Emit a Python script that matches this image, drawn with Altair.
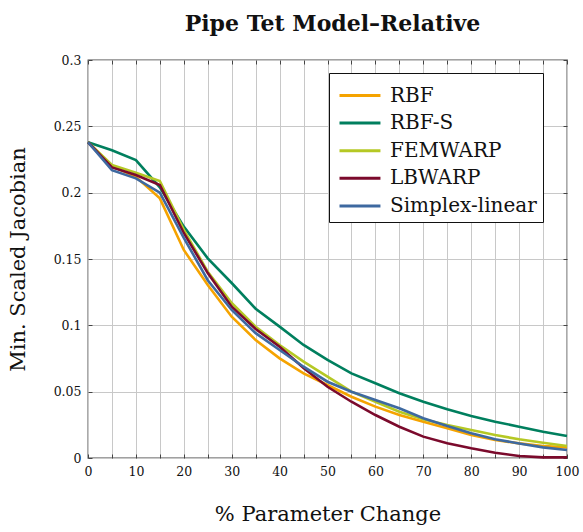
import altair as alt
import pandas as pd

x_vals = [0, 5, 10, 15, 20, 25, 30, 35, 40, 45, 50, 55, 60, 65, 70, 75, 80, 85, 90, 95, 100]

series_names = ["RBF", "RBF-S", "FEMWARP", "LBWARP", "Simplex-linear"]
series_colors = ["#F5A300", "#007F5E", "#B5C824", "#7B0A2C", "#3E69A0"]

rbf = [0.238, 0.220, 0.212, 0.1957, 0.1568, 0.1304, 0.1065, 0.0889, 0.0751, 0.0638, 0.055,
       0.0462, 0.0387, 0.0324, 0.0274, 0.0224, 0.0173, 0.0136, 0.011, 0.009, 0.008]
rbf_s = [0.238, 0.232, 0.2246, 0.204, 0.1744, 0.1505, 0.1319, 0.1125, 0.099, 0.0852, 0.0739,
         0.0638, 0.0563, 0.0488, 0.0424, 0.0367, 0.0317, 0.0274, 0.0236, 0.0198, 0.0166]
femwarp = [0.238, 0.2209, 0.215, 0.2088, 0.172, 0.1404, 0.1168, 0.099, 0.0852, 0.0726, 0.0613,
           0.050, 0.0424, 0.0349, 0.0292, 0.0249, 0.0211, 0.0173, 0.0141, 0.0115, 0.009]
lbwarp = [0.238, 0.219, 0.2133, 0.2058, 0.1696, 0.1394, 0.114, 0.0972, 0.0839, 0.0678, 0.0537,
          0.0424, 0.0324, 0.0236, 0.0161, 0.0111, 0.0073, 0.004, 0.0015, 0.0005, 0.0005]
simplex = [0.238, 0.217, 0.2108, 0.200, 0.166, 0.134, 0.1116, 0.0941, 0.0814, 0.0688, 0.0575,
           0.050, 0.0437, 0.0375, 0.030, 0.0241, 0.0186, 0.0141, 0.011, 0.008, 0.006]

x_ticks = list(range(0, 101, 5))
y_ticks = [0, 0.05, 0.1, 0.15, 0.2, 0.25, 0.3]

rows = []
for name, vals in zip(series_names, [rbf, rbf_s, femwarp, lbwarp, simplex]):
    for i, (xv, yv) in enumerate(zip(x_vals, vals)):
        rows.append({"x": xv, "y": yv, "series": name, "order": i})
df = pd.DataFrame(rows)

SERIF = "DejaVu Serif"
TICK_COLOR = "#444"

x_scale = alt.Scale(domain=[0, 100], nice=False, zero=False)
y_scale = alt.Scale(domain=[0, 0.3], nice=False)

base = alt.Chart(df)

lines = base.mark_line(strokeWidth=2.6, strokeJoin="miter").encode(
    x=alt.X("x:Q", scale=x_scale,
            axis=alt.Axis(values=x_ticks, orient="bottom",
                          labelExpr="datum.value % 10 == 0 ? datum.label : ''",
                          title="% Parameter Change", grid=True, domain=False,
                          ticks=True, tickSize=4, offset=-4, tickColor=TICK_COLOR,
                          labelFlush=False, labelPadding=7, titlePadding=26)),
    y=alt.Y("y:Q", scale=y_scale,
            axis=alt.Axis(values=y_ticks, orient="left", title="Min. Scaled Jacobian",
                          grid=True, domain=False,
                          ticks=True, tickSize=4, offset=-4, tickColor=TICK_COLOR,
                          labelFlush=False, labelPadding=7, titlePadding=25,
                          labelExpr="datum.value == 0 ? '0' : format(datum.value, '.2~f')")),
    color=alt.Color("series:N",
                    scale=alt.Scale(domain=series_names, range=series_colors),
                    sort=series_names,
                    legend=alt.Legend(title=None, orient="none", legendX=241, legendY=13,
                                      symbolType="M-0.8,0H1.93", symbolSize=900,
                                      symbolStrokeWidth=3, labelFontSize=20, labelFont=SERIF,
                                      labelColor="#111", labelOffset=22, rowPadding=0.6,
                                      padding=6, strokeColor="#111", fillColor="white",
                                      cornerRadius=0)),
    order="order:Q",
    detail="series:N",
)

frame_ticks = base.mark_line(opacity=0).encode(
    x=alt.X("x:Q", scale=x_scale,
            axis=alt.Axis(values=x_ticks, orient="top", title=None, labels=False,
                          grid=False, domain=False, ticks=True, tickSize=4, offset=-4,
                          tickColor=TICK_COLOR)),
    y=alt.Y("y:Q", scale=y_scale,
            axis=alt.Axis(values=y_ticks, orient="right", title=None, labels=False,
                          grid=False, domain=False, ticks=True, tickSize=4, offset=-4,
                          tickColor=TICK_COLOR)),
    detail="series:N",
)

chart = alt.layer(lines, frame_ticks).resolve_axis(
    x="independent", y="independent"
).properties(
    width=479,
    height=398,
    background="white",
    title=alt.TitleParams("Pipe Tet Model–Relative", font=SERIF, fontSize=22,
                          fontWeight="bold", color="#111", frame="group", anchor="middle",
                          offset=18, dx=5),
    autosize=alt.AutoSizeParams(type="none"),
    padding={"left": 88, "top": 60, "right": 16, "bottom": 74},
).configure_view(
    stroke="#444", strokeWidth=1.3
).configure_axis(
    gridColor="#c8c8c8", gridWidth=1, gridOpacity=1,
    labelFont=SERIF, labelFontSize=12.5, labelColor="#111",
    titleFont=SERIF, titleFontSize=21, titleFontWeight="normal", titleColor="#111",
)

chart.save("out.html", embed_options={"renderer": "svg", "actions": False})
